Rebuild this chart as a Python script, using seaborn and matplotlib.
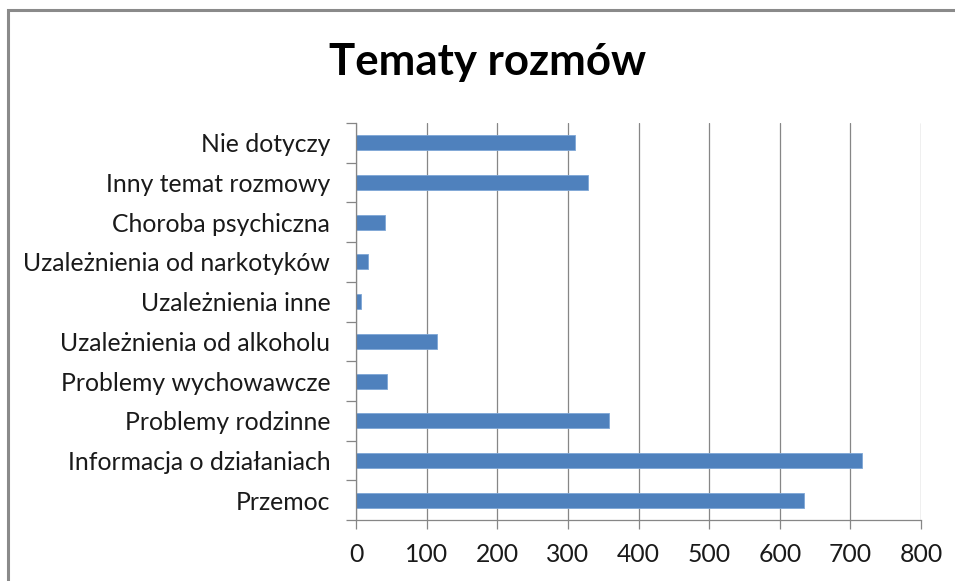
import matplotlib
matplotlib.use("Agg")
import matplotlib.pyplot as plt
import seaborn as sns
import pandas as pd
from matplotlib.patches import Rectangle
from matplotlib.ticker import FixedLocator

categories = [
    "Nie dotyczy",
    "Inny temat rozmowy",
    "Choroba psychiczna",
    "Uzależnienia od narkotyków",
    "Uzależnienia inne",
    "Uzależnienia od alkoholu",
    "Problemy wychowawcze",
    "Problemy rodzinne",
    "Informacja o działaniach",
    "Przemoc",
]
counts = [310, 328, 41, 17, 7, 114, 44, 358, 717, 634]
x_ticks = [0, 100, 200, 300, 400, 500, 600, 700, 800]

df = pd.DataFrame({"temat": categories, "liczba": counts})

sns.set_theme(style="white")
plt.rcParams["font.family"] = ["Lato", "DejaVu Sans"]

grid_color = "#868686"
bar_color = "#4F81BD"

fig = plt.figure(figsize=(9.55, 5.81), dpi=100)
ax = fig.add_axes([356 / 955, 1 - 520 / 581, (921 - 356) / 955, (520 - 123) / 581])

sns.barplot(
    data=df,
    x="liczba",
    y="temat",
    order=categories,
    orient="h",
    color=bar_color,
    saturation=1,
    width=0.38,
    edgecolor="#7EA6D6",
    linewidth=0.6,
    ax=ax,
)

ax.set_xlim(0, 800)
ax.set_ylim(len(categories) - 0.5, -0.5)
ax.set_xticks(x_ticks)
ax.set_xlabel("")
ax.set_ylabel("")

ax.grid(axis="x", color=grid_color, linewidth=0.9)
ax.set_axisbelow(True)
for side in ["top", "right"]:
    ax.spines[side].set_visible(False)
for side in ["left", "bottom"]:
    ax.spines[side].set_color(grid_color)
    ax.spines[side].set_linewidth(0.9)

# category separators on y axis
ax.yaxis.set_minor_locator(FixedLocator([i - 0.5 for i in range(len(categories) + 1)]))
ax.tick_params(axis="y", which="major", length=0, pad=18.5, labelsize=17.8, labelcolor="#1a1a1a")
ax.tick_params(axis="y", which="minor", left=True, length=7.2, width=0.9, color=grid_color)
ax.tick_params(axis="x", which="major", bottom=True, length=6.5, width=0.9, color=grid_color,
               pad=10, labelsize=17.8, labelcolor="#1a1a1a")

fig.text(0.511, 1 - 62 / 581, "Tematy rozmów", ha="center", va="center",
         fontsize=31.5, fontweight="bold", color="black")

# chart frame
fig.patches.append(Rectangle((8 / 955, -0.1), 1.2, 1 - 10 / 581 + 0.1,
                             transform=fig.transFigure, fill=False,
                             edgecolor="#8a8a8a", linewidth=2.2))

fig.savefig("out.png", dpi=100, facecolor="white")
